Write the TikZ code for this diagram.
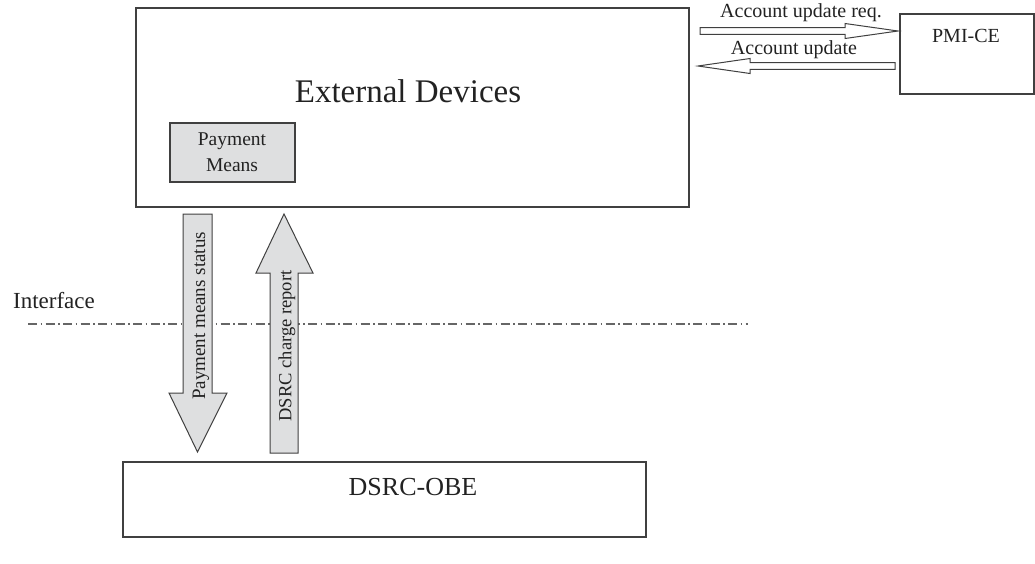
\documentclass[tikz,border=0pt]{standalone}
\usepackage{fontspec}
\setmainfont{Liberation Serif}
\definecolor{linec}{HTML}{404040}
\definecolor{txtc}{HTML}{222222}
\definecolor{fillc}{HTML}{DEDFE0}
\tikzset{
  box/.style={draw=linec, line width=1.3pt},
  blockarrow/.style={draw=linec, line width=1pt, fill=fillc, line join=miter},
  hollowarrow/.style={draw=linec, line width=1pt, fill=white, line join=miter},
  lbl/.style={text=txtc, inner sep=0pt},
  fs/.style={font=\fontsize{#1}{#1}\selectfont}
}
\begin{document}
\begin{tikzpicture}[x=1pt,y=-1pt]
\useasboundingbox (0,0) rectangle (1035,563);
% External devices box
\draw[box] (136,8) rectangle (689,207);
\node[lbl, fs=33] (ext) at (408,91) {External Devices};
% Payment means
\draw[box, fill=fillc] (170,123) rectangle (295,182);
\node[lbl, align=center, font=\fontsize{19.5}{26}\selectfont] (pm) at (232,152) {Payment\\Means};
% PMI-CE
\draw[box] (900,14) -- (1034,14) -- (1034,94) -- (900,94) -- cycle;
\node[lbl, fs=20] (pmi) at (966,36) {PMI-CE};
% horizontal hollow arrows
\draw[hollowarrow] (700,27.7) -- (845,27.7) -- (845,23.5) -- (898,31) -- (845,38.5) -- (845,34.3) -- (700,34.3) -- cycle;
\node[lbl, fs=20] (req) at (801,13) {Account update req.};
\draw[hollowarrow] (895,62.7) -- (750,62.7) -- (750,58.5) -- (698,66) -- (750,73.5) -- (750,69.3) -- (895,69.3) -- cycle;
\node[lbl, fs=20] (upd) at (794,50) {Account update};
% Interface
\node[lbl, fs=23] (intf) at (54,301) {Interface};
\draw[draw=linec!80, line width=1.3pt, dash pattern=on 9pt off 3.5pt on 1.5pt off 3.5pt] (28,324) -- (748,324);
% down arrow
\draw[blockarrow] (183,214) -- (212,214) -- (212,393) -- (227,393) -- (197.5,452) -- (169,393) -- (183,393) -- cycle;
\node[lbl, fs=19, rotate=90] (pms) at (201,316) {Payment means status};
% up arrow
\draw[blockarrow] (270,453) -- (270,273) -- (256,273) -- (284,214) -- (313,273) -- (298,273) -- (298,453) -- cycle;
\node[lbl, fs=18.5, rotate=90] (dcr) at (287,346) {DSRC charge report};
% DSRC-OBE
\draw[box] (123,462) rectangle (646,537);
\node[lbl, fs=26] (obe) at (413,487) {DSRC-OBE};
\end{tikzpicture}
\end{document}
